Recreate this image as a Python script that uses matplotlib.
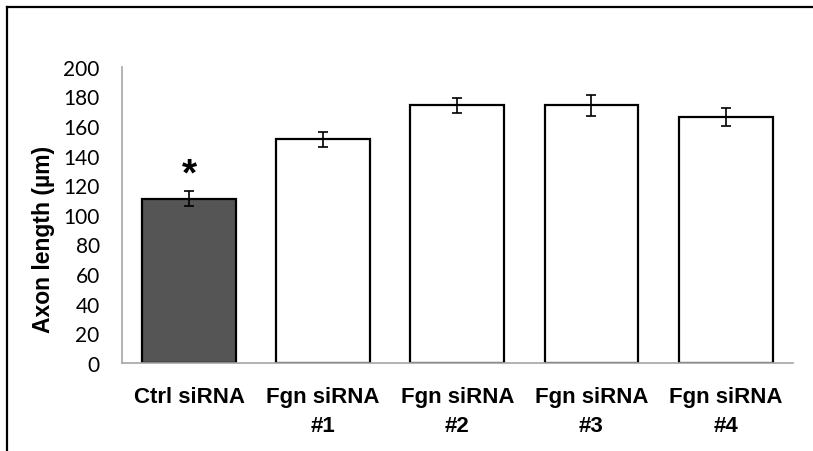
import matplotlib.pyplot as plt
from matplotlib.lines import Line2D

groups = ["Ctrl siRNA", "Fgn siRNA\n#1", "Fgn siRNA\n#2", "Fgn siRNA\n#3", "Fgn siRNA\n#4"]
axon_len = [111, 151, 174, 174, 166]
err = [5, 5, 5, 7, 6]
colors = ["#555555", "white", "white", "white", "white"]

fig = plt.figure(figsize=(8.13, 4.52), dpi=100)
ax = fig.add_axes([0.150, 0.195, 0.825, 0.655])

x = range(len(groups))
ax.bar(x, axon_len, width=0.7, color=colors, edgecolor="black", linewidth=1.6,
       yerr=err, error_kw=dict(ecolor="black", elinewidth=1.2, capsize=3.5, capthick=1.2))
ax.text(0, axon_len[0] + err[0] - 1, "*", ha="center", va="bottom",
        fontsize=28, fontweight="bold", family="Liberation Sans")

ax.set_xlim(-0.5, 4.5)
ax.set_ylim(0, 200)
ax.set_yticks(range(0, 201, 20))
ax.set_xticks(list(x))
ax.set_xticklabels(groups, fontsize=16, fontweight="bold", family="Liberation Sans",
                   linespacing=1.45)
for lab in ax.get_yticklabels():
    lab.set_family("Lato")
    lab.set_fontsize(15)
ax.tick_params(axis="both", length=0)
ax.tick_params(axis="x", pad=17)
ax.tick_params(axis="y", pad=16)
ax.set_ylabel("Axon length (µm)", fontsize=16.5, fontweight="bold", family="Liberation Sans")
ax.yaxis.set_label_coords(-0.10, 0.42)

for s in ["top", "right"]:
    ax.spines[s].set_visible(False)
for s in ["left", "bottom"]:
    ax.spines[s].set_color("#a6a6a6")
    ax.spines[s].set_linewidth(1.2)

# outer frame (top and left edges only visible)
fig.add_artist(Line2D([0.0092, 1.0], [0.982, 0.982], color="black", lw=1.6))
fig.add_artist(Line2D([0.0092, 0.0092], [0.0, 0.982], color="black", lw=1.6))

fig.savefig("out.png", dpi=100)
